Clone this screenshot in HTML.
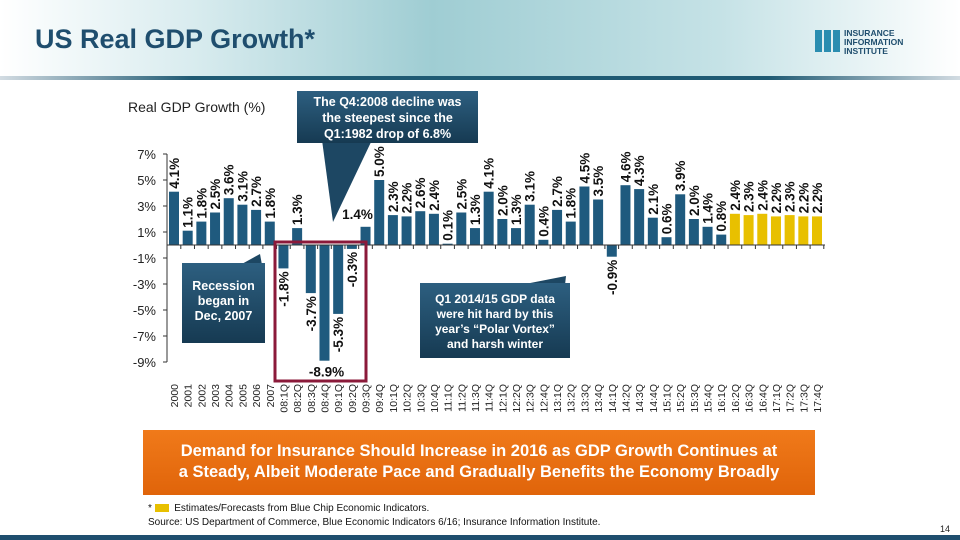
<!DOCTYPE html>
<html><head><meta charset="utf-8"><style>
body{margin:0;width:960px;height:540px;overflow:hidden;background:#fff;font-family:"Liberation Sans",sans-serif;position:relative}
.hdr{position:absolute;left:0;top:0;width:960px;height:76px;background:linear-gradient(90deg,#fff 0%,#d9ecef 20%,#9fcdd3 45%,#c5e2e6 75%,#fff 100%)}
.hline{position:absolute;left:0;top:76px;width:960px;height:4px;background:linear-gradient(90deg,rgba(31,78,110,0.2),#1f5a73 20%,#1f5a73 80%,rgba(31,78,110,0.2))}
.title{position:absolute;left:35px;top:24px;font-size:27px;font-weight:bold;color:#1f4e6e}
.call{position:absolute;color:#fff;font-weight:bold;text-align:center;background:linear-gradient(180deg,#2d5f80,#163a52)}
.banner{position:absolute;left:143px;top:430px;width:672px;height:65px;background:linear-gradient(180deg,#f07a1a,#e0640a);color:#fff;font-weight:bold;font-size:16.5px;text-align:center;line-height:21px;padding-top:11px;box-sizing:border-box}
.foot{position:absolute;left:148px;font-size:10px;color:#111}
.bottom{position:absolute;left:0;top:535px;width:960px;height:5px;background:#1f4e6e}
</style></head><body>
<div class="hdr"></div>
<div class="hline"></div>
<div class="title">US Real GDP Growth*</div>
<div style="position:absolute;left:815px;top:27px;">
<svg width="130" height="28"><g fill="#2a8db0"><rect x="0" y="3" width="7" height="22"/><rect x="9" y="3" width="7" height="22"/><rect x="18" y="3" width="7" height="22"/></g><g fill="#1f4e6e" font-family="Liberation Sans" font-weight="bold" font-size="8.5"><text x="29" y="9">INSURANCE</text><text x="29" y="18">INFORMATION</text><text x="29" y="27">INSTITUTE</text></g></svg></div>
<div style="position:absolute;left:128px;top:99px;font-size:14px;color:#222">Real GDP Growth (%)</div>

<svg width="960" height="540" style="position:absolute;left:0;top:0" id="chart">
<polygon points="322,140 372,140 333,222" fill="#1d4763"/>
<polygon points="240,265 262,265 260,254" fill="#1d4763"/>
<polygon points="520,285 565,285 566,276" fill="#1d4763"/>
</svg>
<div class="call" style="left:297px;top:91px;width:181px;height:52px;font-size:12.5px;line-height:16px;padding-top:3px;box-sizing:border-box">The Q4:2008 decline was<br>the steepest since the<br>Q1:1982 drop of 6.8%</div>
<div class="call" style="left:182px;top:263px;width:83px;height:80px;font-size:12.5px;line-height:15px;padding-top:16px;box-sizing:border-box">Recession<br>began in<br>Dec, 2007</div>
<div class="call" style="left:420px;top:283px;width:150px;height:75px;font-size:12px;line-height:15px;padding-top:9px;box-sizing:border-box">Q1 2014/15 GDP data<br>were hit hard by this<br>year’s “Polar Vortex”<br>and harsh winter</div>
<div class="banner">Demand for Insurance Should Increase in 2016 as GDP Growth Continues at<br>a Steady, Albeit Moderate Pace and Gradually Benefits the Economy Broadly</div>
<div class="foot" style="top:503px">* <span style="display:inline-block;width:14px;height:8px;background:#e8c000;vertical-align:middle"></span>&nbsp; Estimates/Forecasts from Blue Chip Economic Indicators.</div>
<div class="foot" style="top:517px">Source: US Department of Commerce, Blue Economic Indicators 6/16; Insurance Information Institute.</div>
<div style="position:absolute;left:940px;top:524px;font-size:9px;color:#222">14</div>
<div class="bottom"></div>

<script>
const categories=["2000","2001","2002","2003","2004","2005","2006","2007",
"08:1Q","08:2Q","08:3Q","08:4Q","09:1Q","09:2Q","09:3Q","09:4Q",
"10:1Q","10:2Q","10:3Q","10:4Q","11:1Q","11:2Q","11:3Q","11:4Q",
"12:1Q","12:2Q","12:3Q","12:4Q","13:1Q","13:2Q","13:3Q","13:4Q",
"14:1Q","14:2Q","14:3Q","14:4Q","15:1Q","15:2Q","15:3Q","15:4Q",
"16:1Q","16:2Q","16:3Q","16:4Q","17:1Q","17:2Q","17:3Q","17:4Q"];
const values=[4.1,1.1,1.8,2.5,3.6,3.1,2.7,1.8,
-1.8,1.3,-3.7,-8.9,-5.3,-0.3,1.4,5.0,
2.3,2.2,2.6,2.4,0.1,2.5,1.3,4.1,
2.0,1.3,3.1,0.4,2.7,1.8,4.5,3.5,
-0.9,4.6,4.3,2.1,0.6,3.9,2.0,1.4,
0.8,2.4,2.3,2.4,2.2,2.3,2.2,2.2];
const forecastStart=41;
const yTicks=[7,5,3,1,-1,-3,-5,-7,-9];

const NS="http://www.w3.org/2000/svg";
const svg=document.getElementById('chart');
const yMax=7,yMin=-9,pTop=154,pBot=362;
function y(v){return pTop+(yMax-v)*(pBot-pTop)/(yMax-yMin);}
const x0=174,x1=817;
function x(i){return x0+i*(x1-x0)/(categories.length-1);}
function mk(t,a){const e=document.createElementNS(NS,t);for(const k in a)e.setAttribute(k,a[k]);svg.insertBefore(e,svg.firstChild);return e;}
const FS=13.5;

let ax=mk('line',{x1:167,y1:y(yMax),x2:167,y2:y(yMin),stroke:'#333','stroke-width':1});


yTicks.forEach(t=>{
  const tk=mk('line',{x1:163,y1:y(t),x2:167,y2:y(t),stroke:'#333'});
  
  
  const tl=mk('text',{x:156,y:y(t)+5,'text-anchor':'end','font-size':13,fill:'#222','font-family':'Liberation Sans'});
  tl.textContent=t+'%';
  
  
});
let xa=mk('line',{x1:167,y1:y(0),x2:x1+8,y2:y(0),stroke:'#333'});



values.forEach((v,i)=>{
  const cx=x(i);
  const b=mk('rect',{x:cx-5,y:Math.min(y(v),y(0)),width:10,height:Math.abs(y(v)-y(0)),fill:i>=forecastStart?'#e8c000':'#1f5a7e'});
  
  
  const tk=mk('line',{x1:cx+6.8,y1:y(0),x2:cx+6.8,y2:y(0)+4,stroke:'#333'});
  
  
  const lab=v.toFixed(1)+'%';
  let t;
  if(categories[i]==='09:3Q'){
    t=mk('text',{x:cx-8,y:y(v)-8,'text-anchor':'middle','font-size':FS,'font-weight':'bold',fill:'#111','font-family':'Liberation Sans'});
  }else if(v<-8){
    t=mk('text',{x:cx+2,y:y(v)+16,'text-anchor':'middle','font-size':FS,'font-weight':'bold',fill:'#111','font-family':'Liberation Sans'});
  }else if(v>=0){
    t=mk('text',{x:cx+5,y:y(v)-3,'text-anchor':'start','font-size':FS,'font-weight':'bold',fill:'#111','font-family':'Liberation Sans',transform:`rotate(-90 ${cx+5} ${y(v)-3})`});
  }else{
    t=mk('text',{x:cx+5,y:y(v)+3,'text-anchor':'end','font-size':FS,'font-weight':'bold',fill:'#111','font-family':'Liberation Sans',transform:`rotate(-90 ${cx+5} ${y(v)+3})`});
  }
  t.textContent=lab;
  
  
  const xl=mk('text',{x:cx+4,y:384,'text-anchor':'end','font-size':10.5,fill:'#222','font-family':'Liberation Sans',transform:`rotate(-90 ${cx+4} 384)`});
  xl.textContent=categories[i];
  
  
});
const rb=mk('rect',{x:275,y:242,width:91,height:139,fill:'none',stroke:'#8b1a3a','stroke-width':3});


svg.appendChild(rb);
</script>
</body></html>
